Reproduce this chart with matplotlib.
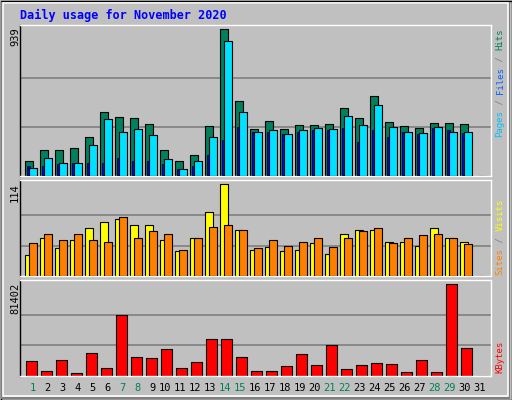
import matplotlib
matplotlib.use("Agg")
import matplotlib.pyplot as plt
from matplotlib.patches import Rectangle

days = list(range(1, 32))
hits = [102,166,172,179,255,409,377,370,332,172,96,140,319,939,479,300,351,300,326,326,332,434,370,511,345,319,307,339,339,332,0]
pages = [57,115,83,83,204,364,287,300,262,109,45,96,255,862,409,281,294,268,294,307,300,383,326,454,313,287,275,313,287,287,0]
files = [64,70,77,83,89,89,115,102,102,77,45,70,140,236,313,281,281,268,287,294,294,307,217,294,255,281,268,307,294,275,0]
visits = [27,48,35,45,60,67,71,63,63,45,31,47,80,114,57,32,36,31,33,41,28,53,57,57,42,42,38,60,48,42,0]
sites = [41,53,45,53,45,42,74,47,56,53,33,47,61,63,57,35,45,37,42,48,36,47,56,60,41,48,51,52,48,40,0]
kbytes = [12775,3862,13666,2080,19905,6536,53772,16340,15448,23470,6536,11883,32382,32382,16340,3862,3862,8318,19013,9210,27035,5645,9210,10992,10101,2971,13666,2971,81402,24361,0]
weekend = [1,7,8,14,15,21,22,28,29]
max_hits, max_visits, max_kb = 939, 114, 81402

W, H = 512, 400
fig = plt.figure(figsize=(W/100, H/100), dpi=100)
fig.patch.set_facecolor('#C0C0C0')
mono = 'DejaVu Sans Mono'

def px(x0, y0, x1, y1):
    return [x0/W, 1-y1/H, (x1-x0)/W, (y1-y0)/H]

fig.patches.append(Rectangle((0.5/W, 0.5/H), 1-1/W, 1-1/H, transform=fig.transFigure, fill=False, ec='black', lw=1))
fig.patches.append(Rectangle((2/W, 2/H), 1-5/W, 1-5/H, transform=fig.transFigure, fill=False, ec='#808080', lw=1.5))
fig.patches.append(Rectangle((3/W, 4/H), 1-7/W, 1-7/H, transform=fig.transFigure, fill=False, ec='white', lw=1.2))

XL = 31.4
def setup(ax, top, grid):
    ax.set_facecolor('#C0C0C0')
    ax.set_xlim(0, XL)
    ax.set_ylim(0, top)
    for g in grid:
        ax.axhline(g, color='#808080', lw=1.2, zorder=0)
    ax.set_xticks([]); ax.set_yticks([])
    ax.spines['left'].set_color('black')
    for s in ['top', 'right', 'bottom']:
        ax.spines[s].set_color('white')
    for s in ax.spines.values():
        s.set_linewidth(1)

x = [d - 1 for d in days]
ek = dict(edgecolor='black', linewidth=0.8, align='edge')

ax1 = fig.add_axes(px(20, 25, 491, 176.5))
setup(ax1, max_hits*151.5/147.2, [max_hits/3, 2*max_hits/3])
ax1.bar([v+0.35 for v in x], hits, 0.49, color='#00805c', zorder=2, **ek)
ax1.bar([v+0.48 for v in x], files, 0.16, color='#0000ff', zorder=3, edgecolor='black', linewidth=0.5, align='edge')
ax1.bar([v+0.62 for v in x], pages, 0.49, color='#00e0ff', zorder=4, **ek)

ax2 = fig.add_axes(px(20, 180.3, 491, 276.3))
setup(ax2, max_visits*96/92, [max_visits/3, 2*max_visits/3])
ax2.bar([v+0.35 for v in x], visits, 0.49, color='#ffff00', zorder=2, **ek)
ax2.bar([v+0.62 for v in x], sites, 0.49, color='#ff8000', zorder=3, **ek)

ax3 = fig.add_axes(px(20, 280.3, 491, 375.7))
setup(ax3, max_kb*95.4/91.4, [max_kb/3, 2*max_kb/3])
ax3.bar([v+0.42 for v in x], kbytes, 0.69, color='#ff0000', zorder=2, **ek)

for d in days:
    off = 0.49 if d < 10 else 0.3
    ax3.text(d-1+0.35+off, -0.13, str(d), transform=ax3.get_xaxis_transform(),
             ha='center', va='center', fontsize=7.5, family=mono,
             color='#00805c' if d in weekend else 'black')

fig.text(20/W, 1-15/H, 'Daily usage for November 2020', color='#0000ff',
         fontsize=8.5, family=mono, fontweight='bold', ha='left', va='center')

for label, ytop in [(str(max_hits), 27), (str(max_visits), 183), (str(max_kb), 283)]:
    fig.text(15/W, 1-ytop/H, label, rotation=90, ha='center', va='top',
             fontsize=7.5, family=mono, color='black')

FS = 6.5
def vlabel(pieces, ytop, xc=500):
    cw = FS*100/72*0.602
    y = ytop
    for txt, col in reversed(pieces):
        fig.text(xc/W, 1-y/H, txt, rotation=90, ha='center', va='top',
                 fontsize=FS, family=mono, color=col)
        y += cw*len(txt)

g = '#808080'
vlabel([('Pages', '#00c0ff'), (' / ', g), ('Files', '#0060ff'), (' / ', g), ('Hits', '#00805c')], 29)
vlabel([('Sites', '#ff8000'), (' / ', g), ('Visits', '#ffff00')], 199)
vlabel([('KBytes', '#ff0000')], 341)

fig.savefig('out.png', dpi=100, facecolor=fig.get_facecolor())
